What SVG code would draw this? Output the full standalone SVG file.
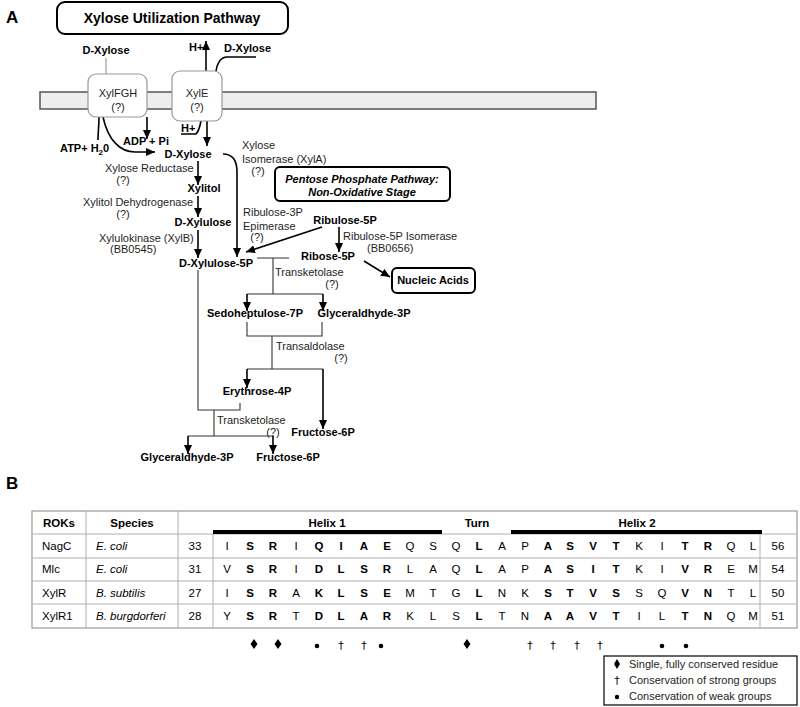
<svg xmlns="http://www.w3.org/2000/svg" width="800" height="707" viewBox="0 0 800 707">
<defs>
<marker id="ah" markerUnits="userSpaceOnUse" markerWidth="9" markerHeight="8" refX="9" refY="4" orient="auto"><path d="M0,0 L9,4 L0,8 z" fill="#000"/></marker>
<style>
text{font-family:"Liberation Sans",Arial,sans-serif;fill:#000}
.n{font-size:11px;font-weight:bold}
.e{font-size:11px;fill:#1e1e1e}
.ttl{font-size:14px;font-weight:bold}
.lab{font-size:17px;font-weight:bold}
.c{text-anchor:middle}
.arr{fill:none;stroke:#000;stroke-width:1.6;marker-end:url(#ah)}
.ln{fill:none;stroke:#000;stroke-width:1.6}
.br{fill:none;stroke:#333;stroke-width:1.1}
.box{fill:#fff;stroke:#000;stroke-width:2}
.tp{fill:#fff;stroke:#999;stroke-width:1.2}
.g{stroke:#b0b0b0;stroke-width:1;fill:none}
.t{font-size:11.5px}
.b{font-weight:bold}
.sq{font-size:11.5px;text-anchor:middle}
.dg{font-family:"DejaVu Sans",sans-serif;font-size:11px;text-anchor:middle;fill:#000}
</style>
</defs>
<text class="lab" x="6" y="23">A</text>
<text class="lab" x="6" y="489">B</text>

<g id="title"><rect class="box" x="57" y="2" width="231" height="32" rx="8"/><text class="ttl c" x="172" y="23">Xylose Utilization Pathway</text></g>

<rect id="membrane" x="40" y="92" width="556" height="17" fill="#eeeeee" stroke="#555" stroke-width="1.5"/>

<g id="connectors">
<path d="M106,58 L106,74" stroke="#888" stroke-width="1" fill="none"/>
<path class="arr" d="M206,71 L206,41"/>
<path class="ln" d="M216,71 C217,63 221,57 227,57 L256,57" stroke-width="1.3"/>
<path class="ln" d="M181,134 L196,134 C199,131 200,126 201,121" stroke-width="1.3"/>
<path class="arr" d="M207,121 L207,146"/>
<path class="arr" d="M147,117 L147,139"/>
<path class="ln" d="M99,117 C99,125 98,132 98,140"/>
<path class="arr" d="M103,117 C108,140 120,152 135,152 L155,152"/>
<path class="arr" d="M198,161 L198,185"/>
<path class="arr" d="M198,196 L198,217"/>
<path class="arr" d="M198,230 L198,258"/>
<path class="arr" d="M223,154 C233,154 237,160 237,172 L237,257"/>
<path class="arr" d="M322,227 L246,252"/>
<path class="arr" d="M339,227 L339,252"/>
<path class="arr" d="M364,261 L390,277"/>
<path class="br" d="M257,258 L289,258 M273,258 L273,294 M247,294 L323,294"/>
<path class="arr" d="M247,294 L247,311" stroke-width="1.3"/>
<path class="arr" d="M323,294 L323,311" stroke-width="1.3"/>
<path class="br" d="M247,322 L247,336 L322,336 L322,322 M272,336 L272,369 M247,369 L323,369"/>
<path class="arr" d="M247,369 L247,388" stroke-width="1.3"/>
<path class="arr" d="M323,369 L323,429"/>
<path class="br" d="M198,270 L198,410 L240,410 L240,403 M214,410 L214,436 M188,436 L273,436"/>
<path class="arr" d="M188,436 L188,454" stroke-width="1.3"/>
<path class="arr" d="M273,436 L273,454" stroke-width="1.3"/>
</g>

<g id="xylfgh"><rect class="tp" x="88" y="74" width="59" height="43" rx="8"/><text class="e c" x="118" y="97" font-size="11.5">XylFGH</text><text class="e c" x="118" y="111">(?)</text></g>
<g id="xyle"><rect class="tp" x="172" y="71" width="50" height="50" rx="8"/><text class="e c" x="197" y="97">XylE</text><text class="e c" x="197" y="111">(?)</text></g>

<g id="labels-top">
<text class="n c" x="106" y="54">D-Xylose</text>
<text class="n" x="189" y="51" font-size="10.5">H+</text>
<text class="n" x="224" y="52">D-Xylose</text>
<text class="n" x="181" y="132" font-size="10.5">H+</text>
<text class="n" x="123" y="145">ADP + Pi</text>
<text class="n" x="60" y="152">ATP+ H<tspan font-size="8" dy="3">2</tspan><tspan dy="-3">0</tspan></text>
</g>

<g id="dxylose"><text class="n c" x="188" y="158">D-Xylose</text></g>
<g id="xylitol"><text class="n c" x="204" y="192">Xylitol</text></g>
<g id="dxylulose"><text class="n c" x="203" y="226">D-Xylulose</text></g>
<g id="dxylulose5p"><text class="n c" x="216" y="267">D-Xylulose-5P</text></g>
<g id="ribulose5p"><text class="n c" x="345" y="224">Ribulose-5P</text></g>
<g id="ribose5p"><text class="n c" x="328" y="260">Ribose-5P</text></g>
<g id="nucleic"><rect class="box" x="392" y="268" width="83" height="25" rx="5"/><text class="n c" x="433" y="284">Nucleic Acids</text></g>
<g id="ppp"><rect class="box" x="275" y="167" width="175" height="34" rx="5"/><text class="n c" x="362" y="183" font-style="italic" font-size="11.5">Pentose Phosphate Pathway:</text><text class="n c" x="362" y="196" font-style="italic" font-size="11.5">Non-Oxidative Stage</text></g>
<g id="sedo"><text class="n c" x="255" y="317">Sedoheptulose-7P</text></g>
<g id="g3p1"><text class="n c" x="364" y="317">Glyceraldhyde-3P</text></g>
<g id="e4p"><text class="n c" x="257" y="395">Erythrose-4P</text></g>
<g id="f6p1"><text class="n c" x="323" y="436">Fructose-6P</text></g>
<g id="g3p2"><text class="n c" x="187" y="461">Glyceraldhyde-3P</text></g>
<g id="f6p2"><text class="n c" x="288" y="461">Fructose-6P</text></g>

<g id="enzymes">
<text class="e" x="242" y="149">Xylose</text>
<text class="e" x="242" y="163">Isomerase (XylA)</text>
<text class="e c" x="258" y="175">(?)</text>
<text class="e" x="105" y="172">Xylose Reductase</text>
<text class="e c" x="123" y="184">(?)</text>
<text class="e" x="83" y="206">Xylitol Dehydrogenase</text>
<text class="e c" x="123" y="218">(?)</text>
<text class="e" x="99" y="242">Xylulokinase (XylB)</text>
<text class="e" x="110" y="253">(BB0545)</text>
<text class="e" x="243" y="216">Ribulose-3P</text>
<text class="e" x="243" y="230">Epimerase</text>
<text class="e c" x="257" y="241">(?)</text>
<text class="e" x="343" y="240">Ribulose-5P Isomerase</text>
<text class="e" x="367" y="252">(BB0656)</text>
<text class="e" x="275" y="276">Transketolase</text>
<text class="e c" x="332" y="288">(?)</text>
<text class="e" x="276" y="350">Transaldolase</text>
<text class="e c" x="341" y="362">(?)</text>
<text class="e" x="217" y="424">Transketolase</text>
<text class="e c" x="273" y="436">(?)</text>
</g>

<g id="table">
<rect x="32" y="511" width="765" height="117" fill="#fff" stroke="#999" stroke-width="1.2"/>
<path class="g" d="M32,534 L797,534 M32,558 L797,558 M32,581 L797,581 M32,604 L797,604 M86,511 L86,628 M178,511 L178,628 M213,534 L213,628 M760,534 L760,628"/>
<path d="M213,532 L442,532 M511,532 L762,532" stroke="#000" stroke-width="4"/>
<text class="t b c" x="59" y="527">ROKs</text>
<text class="t b c" x="132" y="527">Species</text>
<text class="t b c" x="327" y="527">Helix 1</text>
<text class="t b c" x="477" y="527">Turn</text>
<text class="t b c" x="637" y="527">Helix 2</text>
<text class="t" x="42" y="550">NagC</text><text class="t" x="42" y="573">Mlc</text><text class="t" x="42" y="597">XylR</text><text class="t" x="42" y="620">XylR1</text>
<text class="t" x="96" y="550" font-style="italic">E. coli</text><text class="t" x="96" y="573" font-style="italic">E. coli</text><text class="t" x="96" y="597" font-style="italic">B. subtilis</text><text class="t" x="96" y="620" font-style="italic">B. burgdorferi</text>
<text class="t c" x="195" y="550">33</text><text class="t c" x="195" y="573">31</text><text class="t c" x="195" y="597">27</text><text class="t c" x="195" y="620">28</text>
<text class="t c" x="778" y="550">56</text><text class="t c" x="778" y="573">54</text><text class="t c" x="778" y="597">50</text><text class="t c" x="778" y="620">51</text>
<text class="sq" y="550"><tspan x="227">I</tspan><tspan x="250" class="b">S</tspan><tspan x="273" class="b">R</tspan><tspan x="296">I</tspan><tspan x="319" class="b">Q</tspan><tspan x="341" class="b">I</tspan><tspan x="364" class="b">A</tspan><tspan x="387" class="b">E</tspan><tspan x="410">Q</tspan><tspan x="433">S</tspan><tspan x="456">Q</tspan><tspan x="479" class="b">L</tspan><tspan x="502">A</tspan><tspan x="525">P</tspan><tspan x="548" class="b">A</tspan><tspan x="570" class="b">S</tspan><tspan x="593" class="b">V</tspan><tspan x="616" class="b">T</tspan><tspan x="639">K</tspan><tspan x="662">I</tspan><tspan x="685" class="b">T</tspan><tspan x="708" class="b">R</tspan><tspan x="731">Q</tspan><tspan x="753">L</tspan></text>
<text class="sq" y="573"><tspan x="227">V</tspan><tspan x="250" class="b">S</tspan><tspan x="273" class="b">R</tspan><tspan x="296">I</tspan><tspan x="319" class="b">D</tspan><tspan x="341" class="b">L</tspan><tspan x="364" class="b">S</tspan><tspan x="387" class="b">R</tspan><tspan x="410">L</tspan><tspan x="433">A</tspan><tspan x="456">Q</tspan><tspan x="479" class="b">L</tspan><tspan x="502">A</tspan><tspan x="525">P</tspan><tspan x="548" class="b">A</tspan><tspan x="570" class="b">S</tspan><tspan x="593" class="b">I</tspan><tspan x="616" class="b">T</tspan><tspan x="639">K</tspan><tspan x="662">I</tspan><tspan x="685" class="b">V</tspan><tspan x="708" class="b">R</tspan><tspan x="731">E</tspan><tspan x="753">M</tspan></text>
<text class="sq" y="597"><tspan x="227">I</tspan><tspan x="250" class="b">S</tspan><tspan x="273" class="b">R</tspan><tspan x="296">A</tspan><tspan x="319" class="b">K</tspan><tspan x="341" class="b">L</tspan><tspan x="364" class="b">S</tspan><tspan x="387" class="b">E</tspan><tspan x="410">M</tspan><tspan x="433">T</tspan><tspan x="456">G</tspan><tspan x="479" class="b">L</tspan><tspan x="502">N</tspan><tspan x="525">K</tspan><tspan x="548" class="b">S</tspan><tspan x="570" class="b">T</tspan><tspan x="593" class="b">V</tspan><tspan x="616" class="b">S</tspan><tspan x="639">S</tspan><tspan x="662">Q</tspan><tspan x="685" class="b">V</tspan><tspan x="708" class="b">N</tspan><tspan x="731">T</tspan><tspan x="753">L</tspan></text>
<text class="sq" y="620"><tspan x="227">Y</tspan><tspan x="250" class="b">S</tspan><tspan x="273" class="b">R</tspan><tspan x="296">T</tspan><tspan x="319" class="b">D</tspan><tspan x="341" class="b">L</tspan><tspan x="364" class="b">A</tspan><tspan x="387" class="b">R</tspan><tspan x="410">K</tspan><tspan x="433">L</tspan><tspan x="456">S</tspan><tspan x="479" class="b">L</tspan><tspan x="502">T</tspan><tspan x="525">N</tspan><tspan x="548" class="b">A</tspan><tspan x="570" class="b">A</tspan><tspan x="593" class="b">V</tspan><tspan x="616" class="b">T</tspan><tspan x="639">I</tspan><tspan x="662">L</tspan><tspan x="685" class="b">T</tspan><tspan x="708" class="b">N</tspan><tspan x="731">Q</tspan><tspan x="753">M</tspan></text>
</g>

<g id="conservation">
<path d="M254,639 L257.5,644 L254,649 L250.5,644 Z M278,639 L281.5,644 L278,649 L274.5,644 Z M467,639 L470.5,644 L467,649 L463.5,644 Z" fill="#000"/>
<circle cx="317" cy="646" r="2.3"/><circle cx="381" cy="646" r="2.3"/><circle cx="662" cy="646" r="2.3"/><circle cx="686" cy="646" r="2.3"/>
<text class="dg" x="341" y="649">†</text><text class="dg" x="364" y="649">†</text><text class="dg" x="530" y="649">†</text><text class="dg" x="553" y="649">†</text><text class="dg" x="577" y="649">†</text><text class="dg" x="600" y="649">†</text>
</g>

<g id="legend">
<rect x="604" y="656" width="193" height="49" fill="#fff" stroke="#000" stroke-width="1.2"/>
<path d="M617,659 L620,664 L617,669 L614,664 Z" fill="#000"/>
<text class="dg" x="617" y="684">†</text>
<circle cx="617" cy="697" r="2.2"/>
<text class="e" x="629" y="668">Single, fully conserved residue</text>
<text class="e" x="629" y="684">Conservation of strong groups</text>
<text class="e" x="629" y="700">Conservation of weak groups</text>
</g>
</svg>
